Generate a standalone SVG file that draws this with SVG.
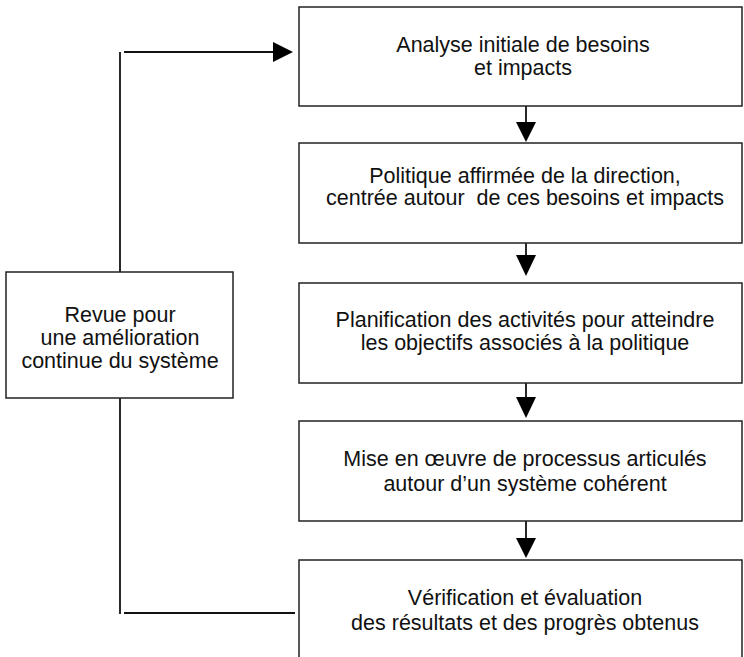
<svg xmlns="http://www.w3.org/2000/svg" width="744" height="657" viewBox="0 0 744 657">
<style>
.box{fill:#fff;stroke:#222;stroke-width:1.5}
.t{font-family:"Liberation Sans",Arial,sans-serif;font-size:21.5px;fill:#111;text-anchor:middle}
.ln{stroke:#111;stroke-width:1.8;fill:none}
.hd{fill:#000}
</style>
<rect width="744" height="657" fill="#fff"/>
<g id="connectors">
<line class="ln" x1="120" y1="52" x2="120" y2="614"/>
<line class="ln" x1="124" y1="52" x2="275" y2="52"/>
<polygon class="hd" points="273,42 293,52 273,62"/>
<line class="ln" x1="124" y1="613" x2="295" y2="613"/>
<line class="ln" x1="526" y1="106" x2="526" y2="124"/>
<polygon class="hd" points="516,122 536,122 526,142"/>
<line class="ln" x1="526" y1="243" x2="526" y2="257"/>
<polygon class="hd" points="516,255 536,255 526,276"/>
<line class="ln" x1="526" y1="383" x2="526" y2="399"/>
<polygon class="hd" points="516,397 536,397 526,418"/>
<line class="ln" x1="526" y1="521" x2="526" y2="540"/>
<polygon class="hd" points="516,538 536,538 526,558"/>
</g>
<g id="n1">
<rect class="box" x="299" y="7" width="443" height="99"/>
<text class="t" x="523" y="52">Analyse initiale de besoins</text>
<text class="t" x="523" y="75">et impacts</text>
</g>
<g id="n2">
<rect class="box" x="299" y="143" width="443" height="100"/>
<text class="t" x="525" y="183">Politique affirmée de la direction,</text>
<text class="t" x="525" y="205" xml:space="preserve">centrée autour  de ces besoins et impacts</text>
</g>
<g id="n3">
<rect class="box" x="299" y="283" width="443" height="100"/>
<text class="t" x="525" y="327">Planification des activités pour atteindre</text>
<text class="t" x="525" y="350">les objectifs associés à la politique</text>
</g>
<g id="n4">
<rect class="box" x="299" y="421" width="443" height="100"/>
<text class="t" x="525" y="466">Mise en œuvre de processus articulés</text>
<text class="t" x="525" y="491">autour d’un système cohérent</text>
</g>
<g id="n5">
<rect class="box" x="299" y="560" width="443" height="100"/>
<text class="t" x="525" y="605">Vérification et évaluation</text>
<text class="t" x="525" y="630">des résultats et des progrès obtenus</text>
</g>
<g id="n6">
<rect class="box" x="6" y="272" width="227" height="126"/>
<text class="t" x="120" y="322">Revue pour</text>
<text class="t" x="120" y="345">une amélioration</text>
<text class="t" x="120" y="368">continue du système</text>
</g>
</svg>
